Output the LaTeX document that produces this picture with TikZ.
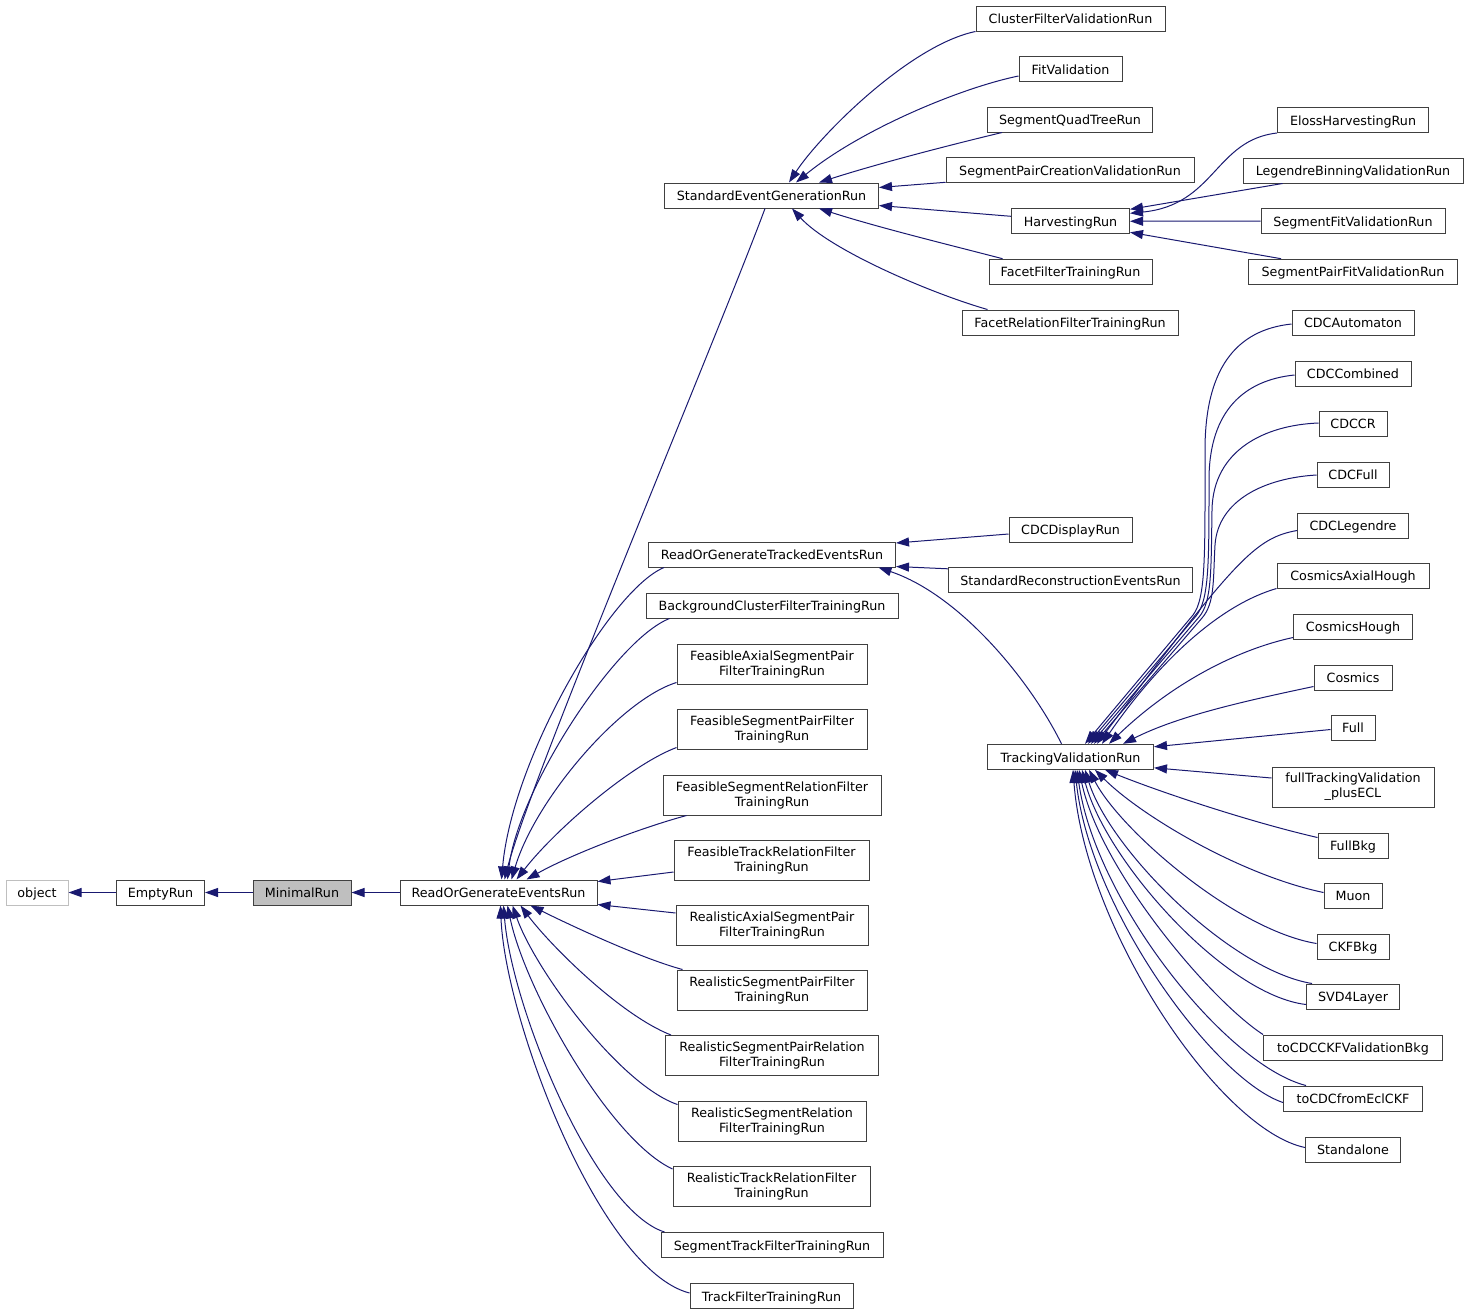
\documentclass[tikz,border=0pt]{standalone}
\usepackage{fontspec}
\setmainfont{DejaVu Sans}
\usetikzlibrary{arrows.meta,calc}
\definecolor{edgeblue}{HTML}{191970}
\definecolor{boxline}{HTML}{404040}
\definecolor{basegray}{HTML}{BFBFBF}
\tikzset{
  box/.style={draw=boxline, fill=white, line width=1pt, inner sep=0pt, font=\fontsize{12.7}{15}\selectfont},
  cls/.style={box, minimum height=25pt, text height=10.5pt, text depth=0pt},
  cls2/.style={box, minimum height=40pt, align=center},
  wd/.style={minimum width=#1pt},
  inh/.style={draw=edgeblue, line width=1pt, -{Triangle[length=13pt,width=9pt]}},
}
\begin{document}
\begin{tikzpicture}[x=1pt,y=-1pt]
\useasboundingbox (0,0) rectangle (1469,1315);
%base chain
\node (object) at (37,892.5) [cls, draw=basegray, wd=62] {object};
\node (empty) at (160.5,892.5) [cls, wd=88] {EmptyRun};
\node (minimal) at (302,892.5) [cls, fill=basegray, wd=98] {MinimalRun};
\node (roge) at (498.5,892.5) [cls, wd=197] {ReadOrGenerateEventsRun};

%second column
\node (segr) at (771.5,195.5) [cls, wd=214] {StandardEventGenerationRun};
\node (rogtr) at (772,554.5) [cls, wd=247] {ReadOrGenerateTrackedEventsRun};
\node (bgc) at (772,605.5) [cls, wd=252] {BackgroundClusterFilterTrainingRun};
\node (fasp) at (772,664) [cls2, wd=190] {FeasibleAxialSegmentPair\\FilterTrainingRun};
\node (fspf) at (772,729) [cls2, wd=190] {FeasibleSegmentPairFilter\\TrainingRun};
\node (fsrf) at (772,795) [cls2, wd=218] {FeasibleSegmentRelationFilter\\TrainingRun};
\node (ftrf) at (771.5,860) [cls2, wd=195] {FeasibleTrackRelationFilter\\TrainingRun};
\node (rasp) at (772,925) [cls2, wd=192] {RealisticAxialSegmentPair\\FilterTrainingRun};
\node (rspf) at (772,990) [cls2, wd=190] {RealisticSegmentPairFilter\\TrainingRun};
\node (rsprf) at (772,1055.5) [cls2, wd=213] {RealisticSegmentPairRelation\\FilterTrainingRun};
\node (rsrf) at (772,1121) [cls2, wd=188] {RealisticSegmentRelation\\FilterTrainingRun};
\node (rtrf) at (771.5,1186.5) [cls2, wd=197] {RealisticTrackRelationFilter\\TrainingRun};
\node (stf) at (772,1245) [cls, wd=222] {SegmentTrackFilterTrainingRun};
\node (tft) at (771.5,1296) [cls, wd=163] {TrackFilterTrainingRun};

%third column
\node (cfv) at (1070.5,18.5) [cls, wd=189] {ClusterFilterValidationRun};
\node (fitv) at (1070.5,69) [cls, wd=103] {FitValidation};
\node (sqt) at (1070,119.5) [cls, wd=165] {SegmentQuadTreeRun};
\node (spcv) at (1070,170.3) [cls, wd=248] {SegmentPairCreationValidationRun};
\node (harv) at (1070.5,221.3) [cls, wd=118] {HarvestingRun};
\node (fft) at (1070.5,271.7) [cls, wd=163] {FacetFilterTrainingRun};
\node (frft) at (1070,322.5) [cls, wd=216] {FacetRelationFilterTrainingRun};
\node (cdcdisp) at (1070.5,529.5) [cls, wd=123] {CDCDisplayRun};
\node (srec) at (1070.5,579.8) [cls, wd=244] {StandardReconstructionEventsRun};
\node (tvr) at (1070.5,756.8) [cls, wd=166] {TrackingValidationRun};

%fourth column
\foreach \nm/\y/\w/\txt in {eloss/120/151/ElossHarvestingRun, lbv/170.5/220/LegendreBinningValidationRun,
    sfv/221/184/SegmentFitValidationRun, spfv/271.7/209/SegmentPairFitValidationRun,
    cdcauto/322.5/122/CDCAutomaton, cdccomb/373.5/116/CDCCombined, cdccr/423.5/68/CDCCR,
    cdcfull/474.5/72/CDCFull, cdcleg/525.5/111/CDCLegendre, cah/575.5/152/CosmicsAxialHough,
    ch/626.5/119/CosmicsHough, cosm/677.5/78/Cosmics, full/727.5/44/Full,
    fullbkg/845.5/70/FullBkg, muon/895.5/58/Muon, ckfbkg/946.5/72/CKFBkg,
    svd/996.5/93/SVD4Layer, tocdcckf/1047.5/179/toCDCCKFValidationBkg,
    tocdcecl/1098.5/139/toCDCfromEclCKF, standalone/1149.5/95/Standalone}{
  \node (\nm) at (1353,\y) [cls, wd=\w] {\txt};
}
\node (ftvpe) at (1353,787) [cls2, wd=162] {fullTrackingValidation\\\_plusECL};

%base chain arrows
\draw[inh] (empty) -- (object);
\draw[inh] (minimal) -- (empty);
\draw[inh] (roge) -- (minimal);

%into ReadOrGenerateEventsRun
\draw[inh] ($(segr.south west)+(101,0)$) .. controls (720,330) and (530,780) .. ($(roge.north west)+(105,0)$);
\draw[inh] ($(rogtr.south west)+(16,0)$) .. controls (610,590) and (512,760) .. ($(roge.north west)+(102,0)$);
\draw[inh] ($(bgc.south west)+(24,0)$) .. controls (615,640) and (518,790) .. ($(roge.north west)+(108,0)$);
\draw[inh] ($(fasp.south west)+(0,-2)$) .. controls (620,700) and (535,800) .. ($(roge.north west)+(112,0)$);
\draw[inh] ($(fspf.south west)+(0,-2)$) .. controls (630,765) and (555,830) .. ($(roge.north west)+(117,0)$);
\draw[inh] ($(fsrf.south west)+(24,0)$) .. controls (640,828) and (570,855) .. ($(roge.north west)+(127,0)$);
\draw[inh] ($(ftrf.west)+(0,12)$) -- ($(roge.north east)+(0,2)$);
\draw[inh] ($(rasp.west)+(0,-12)$) -- ($(roge.south east)+(0,-1)$);
\draw[inh] ($(rspf.north west)+(6,0)$) .. controls (640,958) and (570,925) .. ($(roge.south west)+(131,0)$);
\draw[inh] ($(rsprf.north west)+(6,0)$) .. controls (620,1015) and (550,945) .. ($(roge.south west)+(121,0)$);
\draw[inh] ($(rsrf.north west)+(0,4)$) .. controls (620,1085) and (535,970) .. ($(roge.south west)+(113,0)$);
\draw[inh] ($(rtrf.north west)+(0,3)$) .. controls (610,1140) and (525,990) .. ($(roge.south west)+(108,0)$);
\draw[inh] ($(stf.north west)+(4,0)$) .. controls (595,1210) and (512,1010) .. ($(roge.south west)+(104,0)$);
\draw[inh] ($(tft.west)+(0,-3)$) .. controls (600,1270) and (505,1020) .. ($(roge.south west)+(101,0)$);

%into StandardEventGenerationRun
\draw[inh] (cfv.south west) .. controls (910,45) and (820,135) .. ($(segr.north west)+(125,0)$);
\draw[inh] ($(fitv.west)+(0,7)$) .. controls (960,88) and (860,130) .. ($(segr.north west)+(132,0)$);
\draw[inh] ($(sqt.south west)+(15,0)$) .. controls (950,145) and (880,163) .. ($(segr.north west)+(155,0)$);
\draw[inh] ($(spcv.south west)+(0,-1)$) -- ($(segr.east)+(0,-8)$);
\draw[inh] ($(harv.west)+(0,-5)$) -- ($(segr.east)+(0,10)$);
\draw[inh] ($(fft.north west)+(14,0)$) .. controls (950,245) and (880,228) .. ($(segr.south west)+(155,0)$);
\draw[inh] ($(frft.north west)+(26,0)$) .. controls (930,293) and (830,250) .. ($(segr.south west)+(128,0)$);

%into HarvestingRun
\draw[inh] (eloss.south west) .. controls (1215,140) and (1215,205) .. ($(harv.north east)+(0,5)$);
\draw[inh] ($(lbv.south west)+(40,0)$) -- ($(harv.north east)+(0,1)$);
\draw[inh] (sfv) -- (harv);
\draw[inh] ($(spfv.north west)+(33,0)$) -- ($(harv.south east)+(0,-2)$);

%into ReadOrGenerateTrackedEventsRun
\draw[inh] ($(cdcdisp.west)+(0,4.5)$) -- ($(rogtr.east)+(0,-11.5)$);
\draw[inh] ($(srec.north west)+(0,2)$) -- ($(rogtr.south east)+(0,-1)$);
\draw[inh] ($(tvr.north west)+(74.5,0)$) .. controls (1030,680) and (960,595) .. ($(rogtr.south east)+(-17.5,0)$);

%into TrackingValidationRun, from above
\draw[inh] ($(cdcauto.west)+(0,1.5)$) .. controls (1235,330) and (1205,370) .. (1205,450)
  .. controls (1205,555) and (1206,598) .. (1193,615) -- ($(tvr.north west)+(98,0)$);
\draw[inh] ($(cdccomb.west)+(0,1.5)$) .. controls (1245,380) and (1209,410) .. (1209,480)
  .. controls (1209,565) and (1209,600) .. (1196,616) -- ($(tvr.north west)+(101,0)$);
\draw[inh] ($(cdccr.west)+(0,-0.5)$) .. controls (1265,425) and (1213,450) .. (1212,510)
  .. controls (1211,570) and (1212,602) .. (1199,617) -- ($(tvr.north west)+(104,0)$);
\draw[inh] ($(cdcfull.west)+(0,0.5)$) .. controls (1265,478) and (1218,500) .. (1215,545)
  .. controls (1213,580) and (1215,603) .. (1202,618) -- ($(tvr.north west)+(107,0)$);
\draw[inh] ($(cdcleg.west)+(0,5)$) .. controls (1255,538) and (1235,560) .. ($(tvr.north west)+(110,0)$);
\draw[inh] (cah.south west) .. controls (1220,605) and (1160,660) .. ($(tvr.north west)+(115,0)$);
\draw[inh] ($(ch.south west)+(0,-2)$) .. controls (1235,650) and (1170,685) .. ($(tvr.north west)+(122,0)$);
\draw[inh] ($(cosm.south west)+(0,-4)$) .. controls (1250,700) and (1180,715) .. ($(tvr.north west)+(136,0)$);
\draw[inh] ($(full.west)+(0,2)$) -- ($(tvr.north east)+(0,3)$);
\draw[inh] ($(ftvpe.west)+(0,-9)$) -- ($(tvr.south east)+(0,-2)$);

%into TrackingValidationRun, from below
\draw[inh] ($(fullbkg.north west)+(0,5)$) .. controls (1250,822) and (1160,792) .. ($(tvr.south west)+(118,0)$);
\draw[inh] ($(muon.west)+(0,-3)$) .. controls (1240,875) and (1140,815) .. ($(tvr.south west)+(108,0)$);
\draw[inh] ($(ckfbkg.west)+(0,-3)$) .. controls (1235,930) and (1120,830) .. ($(tvr.south west)+(102,0)$);
\draw[inh] ($(svd.north west)+(6,0)$) .. controls (1230,970) and (1110,850) .. ($(tvr.south west)+(98,0)$);
\draw[inh] ($(svd.west)+(0,8)$) .. controls (1225,995) and (1105,860) .. ($(tvr.south west)+(95,0)$);
\draw[inh] (tocdcckf.north west) .. controls (1210,1000) and (1100,870) .. ($(tvr.south west)+(92,0)$);
\draw[inh] ($(tocdcecl.north west)+(23,0)$) .. controls (1225,1065) and (1095,900) .. ($(tvr.south west)+(90,0)$);
\draw[inh] ($(tocdcecl.west)+(0,4)$) .. controls (1215,1080) and (1090,910) .. ($(tvr.south west)+(88,0)$);
\draw[inh] ($(standalone.west)+(0,-2)$) .. controls (1220,1130) and (1085,930) .. ($(tvr.south west)+(86,0)$);
\end{tikzpicture}
\end{document}
